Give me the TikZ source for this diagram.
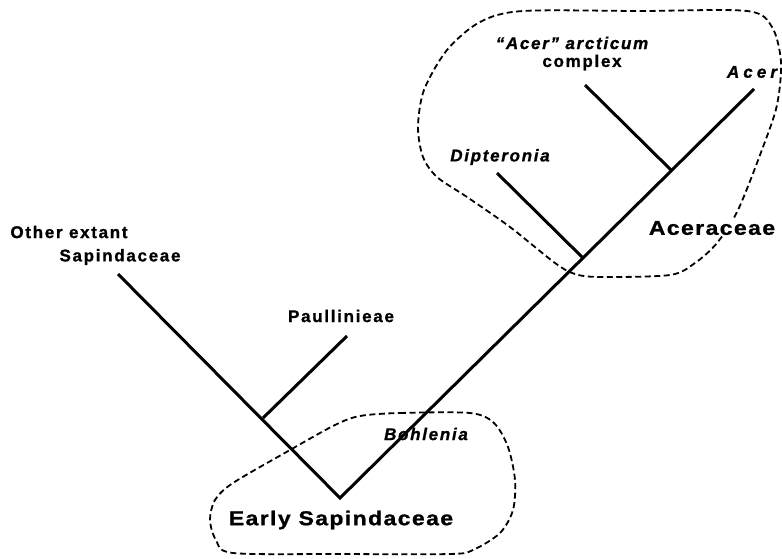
\documentclass[tikz,border=0pt]{standalone}
\usepackage{fontspec}
\newfontfamily\taxfont[LetterSpace=10,FakeBold=1]{Liberation Sans}
\newfontfamily\acerfont[LetterSpace=24,FakeBold=1]{Liberation Sans}
\newfontfamily\grpfont[FakeStretch=1.15,LetterSpace=7,FakeBold=1]{Liberation Sans}
\usetikzlibrary{positioning}
\tikzset{branch/.style={line width=3pt, line join=miter},
  taxon/.style={font=\taxfont\bfseries\fontsize{17}{19}\selectfont, inner sep=1pt},
  taxit/.style={font=\taxfont\bfseries\itshape\fontsize{17}{19}\selectfont, inner sep=1pt},
  grp/.style={font=\grpfont\bfseries\fontsize{20}{22}\selectfont, inner sep=1pt},
  hull/.style={line width=1.8pt, dash pattern=on 6pt off 3.5pt}}

\begin{document}
\begin{tikzpicture}[x=1pt, y=-1pt]
  \useasboundingbox (0,0) rectangle (782,559);
  % tree: root, inner nodes and tips
  \coordinate (root) at (340,498);
  \coordinate (oth)  at (118,274);
  \coordinate (paun) at (263,418);
  \coordinate (paut) at (347,336);
  \coordinate (dipn) at (582,257);
  \coordinate (dipt) at (497,173);
  \coordinate (arcn) at (671,170);
  \coordinate (arct) at (585,85);
  \coordinate (acer) at (754,89);
  \draw[branch] (oth) -- (root) -- (acer);
  \draw[branch] (paun) -- (paut);
  \draw[branch] (dipn) -- (dipt);
  \draw[branch] (arcn) -- (arct);
  % dashed hulls
  \draw[hull] plot[smooth cycle, tension=0.5] coordinates {(523,11) (640,11) (747,11) (772,27)
    (781,62) (777,105) (763,147) (738,210) (717,243) (695,263) (670,275) (600,277) (575,274)
    (555,263) (510,227) (467,197) (437,177) (423,157) (418,127) (424,90) (447,50) (480,22)};
  \draw[hull] plot[smooth cycle, tension=0.5] coordinates {(360,416) (400,413) (470,413)
    (494,423) (508,447) (515,480) (513,510) (500,533) (473,550) (450,554) (340,554) (233,553)
    (216,540) (210,520) (215,500) (233,483) (290,450) (335,425)};
  % labels
  \node[taxon] (oth1) at (69,232) {Other extant};
  \node[taxon] (oth2) at (120,257) {Sapindaceae};
  \node[taxon] (paul) at (341,316) {Paullinieae};
  \node[taxit] (bohl) at (426,434) {Bohlenia};
  \node[taxit] (dipl) at (500,157) {Dipteronia};
  \node[taxit] (arcl) at (572,43) {“Acer” arcticum};
  \node[taxon, below=3pt of arcl.south, anchor=north, xshift=10pt] (cplx) {complex};
  \node[taxit, font=\acerfont\bfseries\itshape\fontsize{17}{19}\selectfont] (acl) at (752,72) {Acer};
  \node[grp, fill=white] (acera) at (712,228) {Aceraceae};
  \node[grp] (early) at (341,520) {Early Sapindaceae};
\end{tikzpicture}
\end{document}
